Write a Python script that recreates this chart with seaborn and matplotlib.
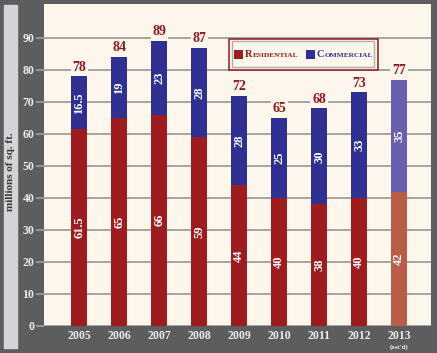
import pandas as pd
import seaborn as sns
import matplotlib.pyplot as plt
from matplotlib.patches import Rectangle
from matplotlib.offsetbox import AnchoredOffsetbox, HPacker, TextArea, DrawingArea
import matplotlib.transforms as mtransforms

years = ["2005", "2006", "2007", "2008", "2009", "2010", "2011", "2012", "2013"]
residential = [61.5, 65, 66, 59, 44, 40, 38, 40, 42]
commercial = [16.5, 19, 23, 28, 28, 25, 30, 33, 35]
totals = [78, 84, 89, 87, 72, 65, 68, 73, 77]
res_labels = ["61.5", "65", "66", "59", "44", "40", "38", "40", "42"]
com_labels = ["16.5", "19", "23", "28", "28", "25", "30", "33", "35"]

df = pd.DataFrame({"year": years, "res": residential, "com": commercial})
df["stack"] = df["res"] + df["com"]

RED, BLUE = "#9c1c20", "#2f3192"
RED_EST, BLUE_EST = "#b95c48", "#6a5fae"
CREAM, DARK, GRID = "#fcf6ec", "#5d5d60", "#a09e9a"
res_pal = [RED] * 8 + [RED_EST]
com_pal = [BLUE] * 8 + [BLUE_EST]

sns.set_theme(style="white")
plt.rcParams["font.family"] = ["Liberation Serif", "DejaVu Serif"]
plt.rcParams["font.weight"] = "bold"

fig = plt.figure(figsize=(4.37, 3.53), dpi=100, facecolor=DARK)
fig.patches.append(Rectangle((4 / 437, 5 / 353), 13 / 437, 343 / 353,
                             transform=fig.transFigure, color="#d4d4d8", zorder=0))
fig.text(10.5 / 437, 1 - 172 / 353, "millions of sq. ft.", rotation=90,
         ha="center", va="center", fontsize=8, color="#3a3a3c", fontweight="bold")

ax = fig.add_axes([44 / 437, 1 - 326 / 353, 387 / 437, 322 / 353])
ax.set_facecolor(CREAM)

sns.barplot(data=df, x="year", y="stack", hue="year", palette=com_pal,
            width=0.41, legend=False, ax=ax, saturation=1, zorder=3,
            linewidth=0, edgecolor="none")
sns.barplot(data=df, x="year", y="res", hue="year", palette=res_pal,
            width=0.41, legend=False, ax=ax, saturation=1, zorder=4,
            linewidth=0, edgecolor="none")

for i in range(len(years)):
    ax.text(i, residential[i] / 2, res_labels[i], rotation=90, ha="center", va="center",
            color="white", fontsize=9, fontweight="bold", zorder=5)
    ax.text(i, residential[i] + commercial[i] / 2, com_labels[i], rotation=90,
            ha="center", va="center", color="white", fontsize=9, fontweight="bold", zorder=5)
    ax.text(i, df["stack"][i] + 2.9, str(totals[i]), ha="center", va="center",
            color="#8e1a1c", fontsize=10, fontweight="bold", zorder=5,
            bbox=dict(facecolor=CREAM, edgecolor="none", pad=1.2))

ax.set_xlim(-0.88, 8.8)
ax.set_ylim(0, 100.6)
ax.set_yticks(range(0, 100, 10))
ax.yaxis.grid(True, color=GRID, linewidth=1.3, zorder=1)
ax.set_axisbelow(True)
for s in ax.spines.values():
    s.set_visible(False)
ax.set_xlabel("")
ax.set_ylabel("")
ax.tick_params(axis="y", length=6, width=1.3, color=GRID, pad=1, labelsize=8.5,
               labelcolor="#ececec", left=True)
ax.tick_params(axis="x", length=0, pad=3, labelsize=8.5, labelcolor="#ececec")
for lab in ax.get_xticklabels() + ax.get_yticklabels():
    lab.set_fontweight("bold")

trans = mtransforms.blended_transform_factory(ax.transData, ax.transAxes)
ax.text(8, -0.066, "(est'd)", transform=trans, ha="center", va="center",
        fontsize=5, color="#ececec", fontweight="bold", clip_on=False)

# legend box with double border
ax.add_patch(Rectangle((0.478, 0.795), 0.385, 0.096, transform=ax.transAxes,
                       facecolor=CREAM, edgecolor="#8e1a1c", linewidth=1.1, zorder=6))
ax.add_patch(Rectangle((0.486, 0.804), 0.367, 0.081, transform=ax.transAxes,
                       facecolor="none", edgecolor="#b0aeaa", linewidth=1.0, zorder=6))


def swatch(color):
    da = DrawingArea(6, 6, 0, 0)
    da.add_artist(Rectangle((0, 0), 6, 6, facecolor=color, edgecolor="none"))
    return da


def smallcaps(word, color):
    big = TextArea(word[0], textprops=dict(fontsize=7.5, color=color, fontweight="bold"))
    small = TextArea(word[1:].upper(), textprops=dict(fontsize=5.3, color=color, fontweight="bold"))
    return HPacker(children=[big, small], align="baseline", pad=0, sep=0)


items = HPacker(children=[
    HPacker(children=[swatch(RED), smallcaps("Residential", "#8e1a1c")], align="center", pad=0, sep=1.5),
    HPacker(children=[swatch(BLUE), smallcaps("Commercial", BLUE)], align="center", pad=0, sep=1.5),
], align="center", pad=0, sep=6)
box = AnchoredOffsetbox(loc="center", child=items, frameon=False,
                        bbox_to_anchor=(0.6705, 0.843), bbox_transform=ax.transAxes, pad=0)
box.set_zorder(7)
ax.add_artist(box)

plt.savefig("out.png", dpi=100, facecolor=DARK)
